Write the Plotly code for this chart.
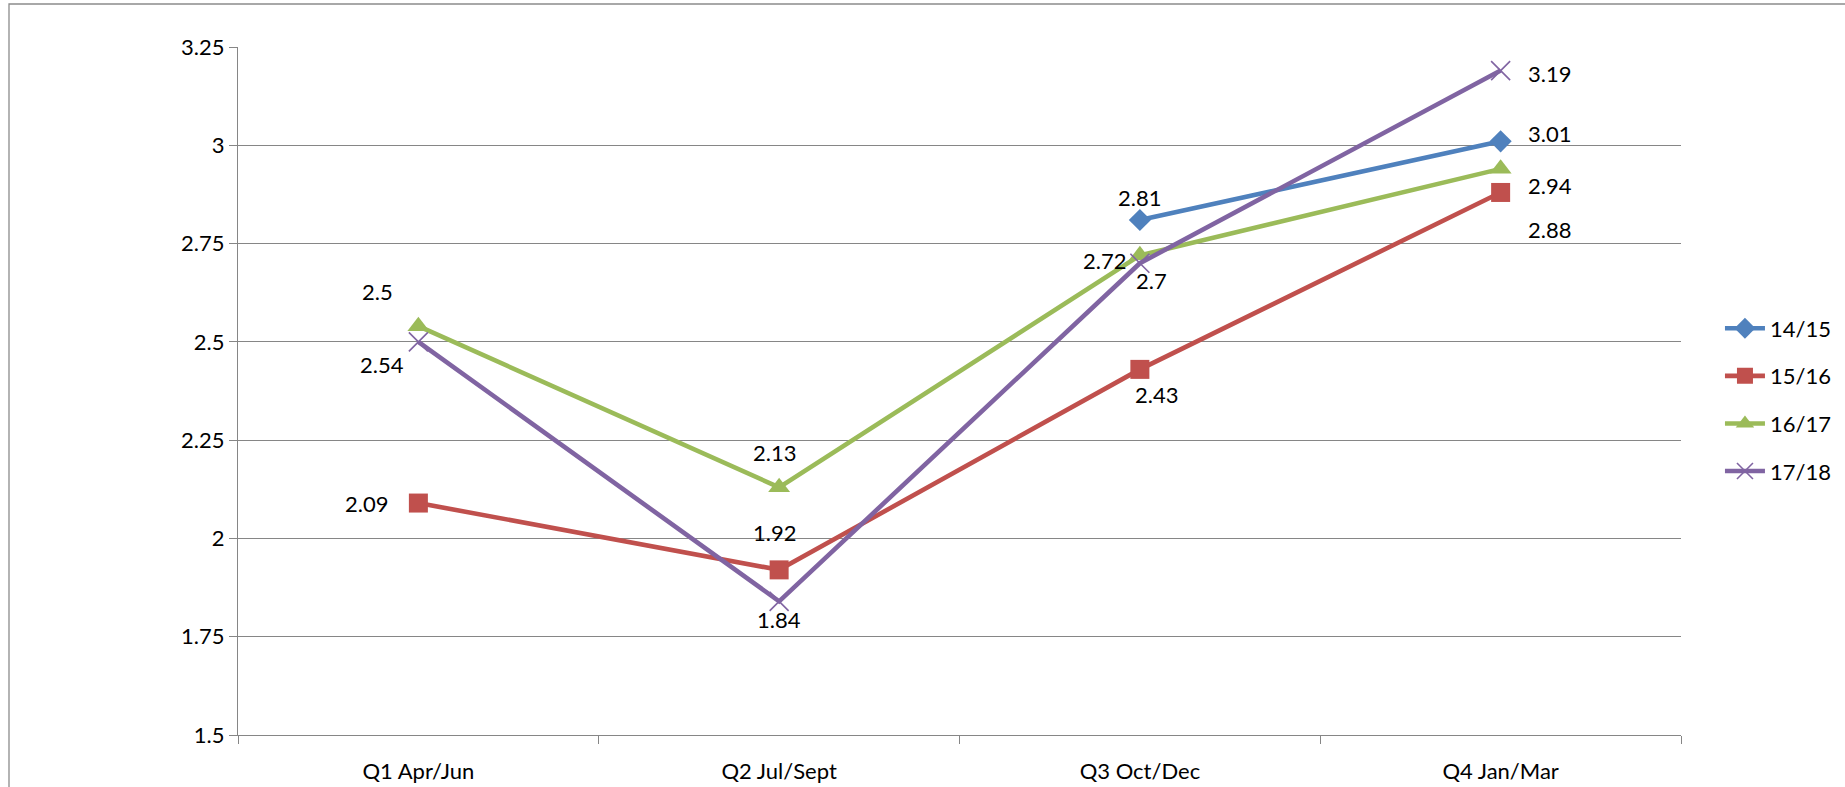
import plotly.graph_objects as go

categories = ["Q1 Apr/Jun", "Q2 Jul/Sept", "Q3 Oct/Dec", "Q4 Jan/Mar"]
series_names = ["14/15", "15/16", "16/17", "17/18"]
s1415 = [None, None, 2.81, 3.01]
s1516 = [2.09, 1.92, 2.43, 2.88]
s1617 = [2.54, 2.13, 2.72, 2.94]
s1718 = [2.5, 1.84, 2.7, 3.19]
y_ticks = [1.5, 1.75, 2, 2.25, 2.5, 2.75, 3, 3.25]

values = [s1415, s1516, s1617, s1718]
colors = ["#4F81BD", "#C0504D", "#9BBB59", "#8064A2"]
symbols = ["diamond", "square", "triangle-up", "x-thin"]
msizes = [17, 19, 19, 19]

# label offsets (pixels: dx right, dy down) per series, per category
offsets = [
    [None, None, (0, -22), (49, -8)],
    [(-52, 0), (-5, -37), (17, 25), (49, 37)],
    [(-36, 38), (-5, -35), (-35, 5), (49, 17)],
    [(-41, -50), (0, 18), (12, 17), (49, 3)],
]

FONT = "Lato, 'Noto Sans', sans-serif"
FS = 22
W, H = 1845, 787
L, R, T, B = 238, 164, 47, 52

fig = go.Figure()
for i, (name, vals) in enumerate(zip(series_names, values)):
    marker = dict(symbol=symbols[i], size=msizes[i], color=colors[i])
    if symbols[i] == "x-thin":
        marker["line"] = dict(color=colors[i], width=1.6)
    else:
        marker["line"] = dict(width=0)
    fig.add_trace(go.Scatter(
        x=categories, y=vals, name=name, mode="lines+markers",
        line=dict(color=colors[i], width=4.6),
        marker=marker, legendgroup=name,
        connectgaps=False,
    ))

annotations = []
for i, vals in enumerate(values):
    for j, v in enumerate(vals):
        if v is None:
            continue
        dx, dy = offsets[i][j]
        annotations.append(dict(
            x=categories[j], y=v, xref="x", yref="y", text=f"{v:g}",
            showarrow=False, xanchor="center", yanchor="middle",
            xshift=dx, yshift=-dy,
            font=dict(family=FONT, size=FS, color="black"),
        ))

pw = W - L - R
ph = H - T - B
fig.update_layout(
    width=W, height=H,
    margin=dict(l=L, r=R, t=T, b=B, autoexpand=False),
    paper_bgcolor="white", plot_bgcolor="white",
    font=dict(family=FONT, size=FS, color="black"),
    annotations=annotations,
    showlegend=True,
    legend=dict(x=1.027, y=0.487, xanchor="left", yanchor="middle",
                font=dict(family=FONT, size=FS, color="black"),
                tracegroupgap=16, itemwidth=40, bgcolor="rgba(0,0,0,0)"),
    xaxis=dict(type="category", range=[-0.5, 3.5], tickson="boundaries",
               ticks="outside", ticklen=8, tickcolor="#868686", tickwidth=1.3,
               showline=True, linecolor="#868686", linewidth=1.3,
               showgrid=False, zeroline=False, ticklabelstandoff=16,
               automargin=False,
               tickfont=dict(family=FONT, size=FS, color="black")),
    yaxis=dict(range=[1.5, 3.25], tickvals=y_ticks,
               ticktext=[f"{t:g}" for t in y_ticks],
               ticks="outside", ticklen=8, tickcolor="#868686", tickwidth=1.3,
               showline=True, linecolor="#868686", linewidth=1.3,
               showgrid=True, gridcolor="#868686", gridwidth=1.3,
               zeroline=False, automargin=False,
               tickfont=dict(family=FONT, size=FS, color="black")),
    shapes=[dict(type="rect", xref="paper", yref="paper", layer="below",
                 x0=(9 - L) / pw, x1=(W + 20 - L) / pw,
                 y0=(H - T - (H + 20)) / ph, y1=(H - T - 9) / ph,
                 line=dict(color="#8c8c8c", width=1.3))],
)

fig.write_html("out.html")
